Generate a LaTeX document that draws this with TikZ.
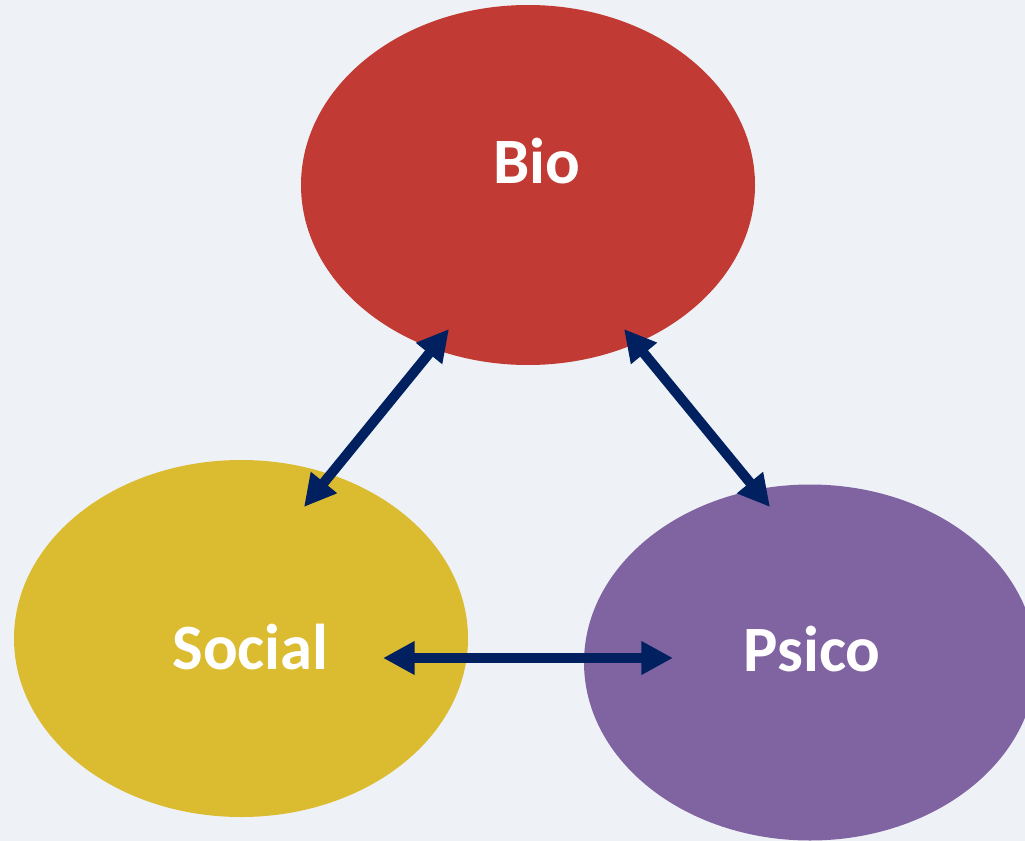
\documentclass[tikz,border=0pt]{standalone}
\usepackage{fontspec}
\setmainfont{Carlito}
\usetikzlibrary{shapes.geometric,arrows.meta}
\definecolor{paper}{HTML}{EEF2F6}
\definecolor{biored}{HTML}{C13A34}
\definecolor{socialgold}{HTML}{DBBB30}
\definecolor{psicoviolet}{HTML}{8064A2}
\definecolor{linknavy}{HTML}{002060}
\tikzset{
  blob/.style={ellipse, inner sep=0pt, draw=none},
  caption/.style={text=white, font=\fontsize{46}{52}\selectfont\bfseries, inner sep=0pt, anchor=base},
  link/.style={draw=linknavy, line width=7.1pt,
    {Triangle[length=22.5pt,width=22.5pt]}-{Triangle[length=22.5pt,width=22.5pt]}}
}
\begin{document}
\begin{tikzpicture}[x=0.025cm, y=-0.025cm]
  \useasboundingbox (0,0) rectangle (1025,841);
  \clip (0,0) rectangle (1025,841);
  \fill[paper] (0,0) rectangle (1025,841);

  % the three spheres
  \node[blob, fill=biored, minimum width=454*0.025cm, minimum height=360*0.025cm] (bio) at (528,185) {};
  \node[blob, fill=socialgold, minimum width=454*0.025cm, minimum height=357*0.025cm] (social) at (241,638.5) {};
  \node[blob, fill=psicoviolet, minimum width=452*0.025cm, minimum height=356*0.025cm] (psico) at (810,662.5) {};

  \node[caption] (biotext) at (536.5,183) {Bio};
  \node[caption] (socialtext) at (250.5,669) {Social};
  \node[caption] (psicotext) at (812,671) {Psico};

  % arrow end points
  \coordinate (bioL) at (449,329);
  \coordinate (socialT) at (304,507);
  \coordinate (bioR) at (624,329);
  \coordinate (psicoT) at (770,507);
  \coordinate (socialR) at (383,658);
  \coordinate (psicoL) at (673,658);

  \draw[link] (bioL) -- (socialT);
  \draw[link] (bioR) -- (psicoT);
  \draw[link] (socialR) -- (psicoL);
\end{tikzpicture}
\end{document}
